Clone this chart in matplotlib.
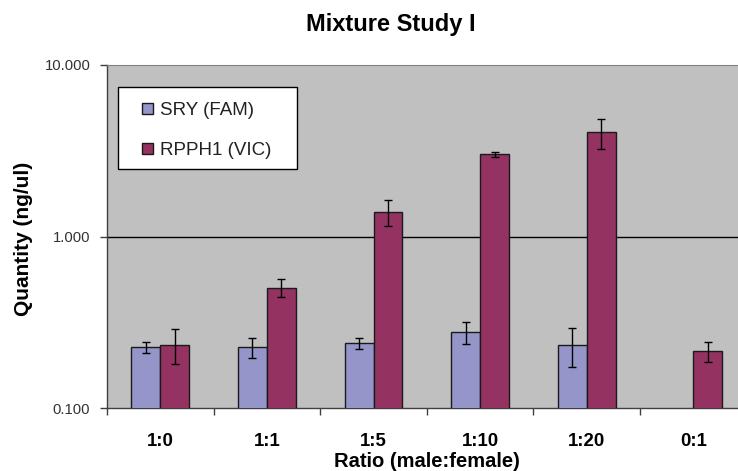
import matplotlib
matplotlib.use("Agg")
import matplotlib.pyplot as plt
import numpy as np
from matplotlib.patches import Rectangle

categories = ["1:0", "1:1", "1:5", "1:10", "1:20", "0:1"]
sry_values = [0.227, 0.227, 0.239, 0.278, 0.235, np.nan]
sry_upper = [0.243, 0.257, 0.257, 0.319, 0.295, np.nan]
sry_lower = [0.211, 0.196, 0.222, 0.238, 0.175, np.nan]
rpph1_values = [0.235, 0.500, 1.40, 3.04, 4.08, 0.216]
rpph1_upper = [0.288, 0.564, 1.64, 3.10, 4.84, 0.243]
rpph1_lower = [0.181, 0.443, 1.16, 2.92, 3.25, 0.187]
series_names = ["SRY (FAM)", "RPPH1 (VIC)"]
yticks = [0.1, 1.0, 10.0]
ytick_labels = ["0.100", "1.000", "10.000"]

plt.rcParams['font.family'] = ['Liberation Sans', 'DejaVu Sans']

W, H = 738, 471
fig = plt.figure(figsize=(W/100, H/100), dpi=100)
ax = fig.add_axes([107/W, (H-408.3)/H, 639.6/W, 343.3/H])
ax.set_facecolor('#C0C0C0')

c_sry = '#9595C9'
c_rp = '#943262'
edge = '#1a1a1a'

x = np.arange(len(categories))
w = 0.272
sry = np.array(sry_values)
rp = np.array(rpph1_values)
mask = ~np.isnan(sry)
ax.bar(x[mask] - w/2, sry[mask], width=w, color=c_sry, edgecolor=edge, linewidth=1, zorder=3)
ax.bar(x + w/2, rp, width=w, color=c_rp, edgecolor=edge, linewidth=1, zorder=3)

su = np.array(sry_upper); sl = np.array(sry_lower)
ax.errorbar(x[mask] - w/2, sry[mask], yerr=[sry[mask]-sl[mask], su[mask]-sry[mask]],
            fmt='none', ecolor='black', elinewidth=1, capsize=3, capthick=1, zorder=4)
ru = np.array(rpph1_upper); rl = np.array(rpph1_lower)
ax.errorbar(x + w/2, rp, yerr=[rp-rl, ru-rp],
            fmt='none', ecolor='black', elinewidth=1, capsize=3, capthick=1, zorder=4)

ax.set_yscale('log')
ax.set_ylim(0.1, 10.0)
ax.set_xlim(-0.5, len(categories) - 0.5)
ax.set_yticks(yticks)
ax.set_yticklabels(ytick_labels, fontsize=10.7, color='#333333')
ax.yaxis.set_minor_locator(matplotlib.ticker.NullLocator())
ax.tick_params(axis='y', direction='out', length=5, width=1, color='#404040', pad=7)
ax.axhline(1.0, color='black', linewidth=1, zorder=2)

ax.set_xticks(x)
ax.set_xticklabels(categories, fontsize=13.4, fontweight='bold')
ax.set_xticks(np.arange(len(categories)) - 0.5, minor=True)
ax.tick_params(axis='x', which='major', length=0, pad=18)
ax.tick_params(axis='x', which='minor', direction='out', length=5, width=1, color='#404040')

for s in ['left', 'bottom']:
    ax.spines[s].set_color('#404040')
    ax.spines[s].set_linewidth(1)
ax.spines['top'].set_color('#808080')
ax.spines['right'].set_visible(False)

xl = ax.set_xlabel('Ratio (male:female)', fontsize=14.5, fontweight='bold')
xl.set_va('baseline')
ax.xaxis.set_label_coords(0.5, -(467 - 408.3) / 343.3)
yl = ax.set_ylabel('Quantity (ng/ul)', fontsize=15, fontweight='bold')
yl.set_va('center')
ax.yaxis.set_label_coords(-(107 - 23) / 639.6, 0.5 - (239 - 236.6) / 343.3)

fig.text(391/W, 1 - 31.5/H, 'Mixture Study I', ha='center', va='baseline',
         fontsize=17, fontweight='bold')

# legend box (drawn in figure pixel positions)
def fx(px):
    return px / W
def fy(py):
    return 1 - py / H

fig.patches.append(Rectangle((fx(118.3), fy(169)), fx(296.7) - fx(118.3), fy(86.7) - fy(169),
                             transform=fig.transFigure, facecolor='white', edgecolor='black',
                             linewidth=1, zorder=10))
for name, col, ytop, base in [(series_names[0], c_sry, 102.7, 115.0),
                              (series_names[1], c_rp, 142.7, 155.0)]:
    fig.patches.append(Rectangle((fx(141.7), fy(ytop + 11.6)), fx(11.6), 11.6 / H,
                                 transform=fig.transFigure, facecolor=col, edgecolor=edge,
                                 linewidth=1, zorder=11))
    fig.text(fx(160), fy(base), name, ha='left', va='baseline', fontsize=13.5,
             color='#222222', zorder=12)

fig.savefig('out.png', dpi=100)
